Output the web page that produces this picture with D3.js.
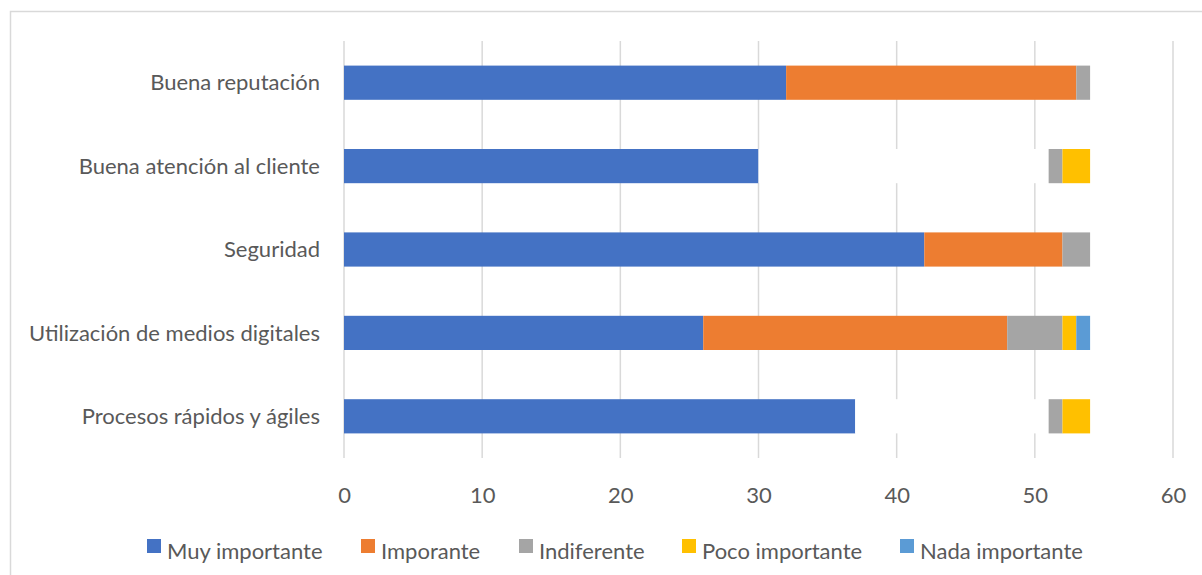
<!DOCTYPE html>
<html>
<head>
<meta charset="utf-8">
<script src="https://cdn.jsdelivr.net/npm/d3@7"></script>
<style>
  body { margin: 0; background: #fff; }
  text { font-family: Lato, "Open Sans", sans-serif; fill: #595959; }
</style>
</head>
<body>
<div class="chart"></div>
<script>
// categorías (de arriba a abajo)
const categories = [
  "Buena reputación",
  "Buena atención al cliente",
  "Seguridad",
  "Utilización de medios digitales",
  "Procesos rápidos y ágiles"
];
const seriesNames = ["Muy importante", "Imporante", "Indiferente", "Poco importante", "Nada importante"];
const muyImportante  = [32, 30, 42, 26, 37];
const imporante      = [21, 21, 10, 22, 14];
const indiferente    = [1, 1, 2, 4, 1];
const pocoImportante = [0, 2, 0, 1, 2];
const nadaImportante = [0, 0, 0, 1, 0];
const xTicks = [0, 10, 20, 30, 40, 50, 60];

function drawChart() {
  const colors = ["#4472C4", "#ED7D31", "#A5A5A5", "#FFC000", "#5B9BD5"];
  // en el original estos puntos de "Imporante" tienen relleno blanco
  const whitePoints = ["Buena atención al cliente", "Procesos rápidos y ágiles"];

  const W = 1202, H = 575;
  const margin = {top: 41, right: 29, bottom: 117, left: 344};
  const width = W - margin.left - margin.right;
  const height = H - margin.top - margin.bottom;

  const svg = d3.select(".chart")
    .append("svg")
    .attr("width", W)
    .attr("height", H);

  // borde del gráfico
  svg.append("rect")
    .attr("x", 10.5).attr("y", 11.5)
    .attr("width", 1200).attr("height", 600)
    .attr("fill", "none")
    .attr("stroke", "#D9D9D9")
    .attr("stroke-width", 1.5);

  const g = svg.append("g")
    .attr("transform", "translate(" + margin.left + "," + margin.top + ")");

  const table = categories.map((c, i) => ({
    cat: c,
    "Muy importante": muyImportante[i],
    "Imporante": imporante[i],
    "Indiferente": indiferente[i],
    "Poco importante": pocoImportante[i],
    "Nada importante": nadaImportante[i]
  }));

  const x = d3.scaleLinear().domain([0, 60]).range([0, width]);
  const y = d3.scaleBand().domain(categories).range([0, height]).paddingInner(0.59).paddingOuter(0.295);

  // líneas de cuadrícula
  g.selectAll(null)
    .data(xTicks)
    .enter()
    .append("line")
    .attr("x1", d => x(d)).attr("x2", d => x(d))
    .attr("y1", 0).attr("y2", height)
    .attr("stroke", "#D9D9D9")
    .attr("stroke-width", 1.5);

  const stack = d3.stack().keys(seriesNames)(table);

  g.selectAll(".serie")
    .data(stack)
    .enter()
    .append("g")
    .attr("class", "serie")
    .each(function(s, si) {
      d3.select(this).selectAll("rect")
        .data(s)
        .enter()
        .append("rect")
        .attr("x", d => x(d[0]))
        .attr("y", d => y(d.data.cat))
        .attr("width", d => x(d[1]) - x(d[0]))
        .attr("height", y.bandwidth())
        .attr("fill", d => (si === 1 && whitePoints.includes(d.data.cat)) ? "#FFFFFF" : colors[si]);
    });

  // etiquetas de categorías
  g.selectAll(".cat")
    .data(categories)
    .enter()
    .append("text")
    .attr("class", "cat")
    .attr("x", -24)
    .attr("y", d => y(d) + y.bandwidth() / 2)
    .attr("dy", "0.35em")
    .attr("text-anchor", "end")
    .attr("font-size", "22px")
    .text(d => d);

  // eje inferior (solo etiquetas)
  const bottomAxis = d3.axisBottom(x).tickValues(xTicks).tickSize(0).tickPadding(0);
  const ax = g.append("g")
    .attr("transform", "translate(0," + height + ")")
    .call(bottomAxis);
  ax.select(".domain").remove();
  ax.selectAll("text")
    .attr("y", 37)
    .attr("dy", "0.35em")
    .attr("font-size", "22px")
    .style("font-family", "Lato, 'Open Sans', sans-serif")
    .attr("fill", "#595959");

  // leyenda
  const legendX = [147, 361, 519, 682, 900];
  const legend = svg.selectAll(".leg")
    .data(seriesNames)
    .enter()
    .append("g")
    .attr("class", "leg")
    .attr("transform", (d, i) => "translate(" + legendX[i] + ",539)");
  legend.append("rect")
    .attr("width", 14).attr("height", 14)
    .attr("fill", (d, i) => colors[i]);
  legend.append("text")
    .attr("x", 20)
    .attr("y", 12)
    .attr("dy", "0.35em")
    .attr("font-size", "22px")
    .text(d => d);
}

drawChart();
</script>
</body>
</html>
